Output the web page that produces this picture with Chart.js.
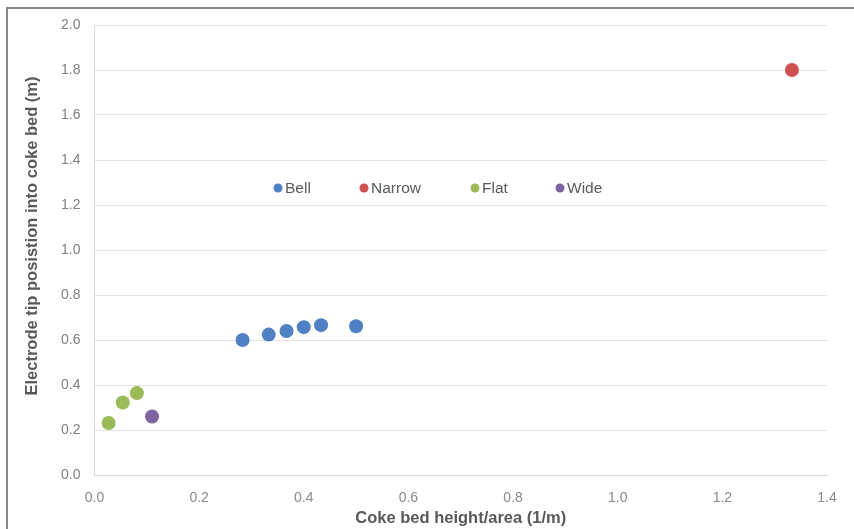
<!DOCTYPE html>
<html>
<head>
<meta charset="utf-8">
<script src="https://cdn.jsdelivr.net/npm/chart.js@4.4.1/dist/chart.umd.min.js"></script>
<style>
  html, body { margin: 0; padding: 0; background: #fff; }
  #wrap { position: relative; width: 854px; height: 529px; overflow: hidden; }
  #frame { position: absolute; left: 6px; top: 7px; width: 900px; height: 600px;
           border-top: 2px solid #8a8a8a; border-left: 2px solid #8a8a8a; pointer-events: none; }
  canvas { position: absolute; left: 0; top: 0; }
</style>
</head>
<body>
<div id="wrap">
  <canvas id="c" width="854" height="529"></canvas>
  <div id="frame"></div>
</div>
<script>
// Coke bed height/area (1/m) vs electrode tip position (m), grouped by profile shape
const bellX   = [0.283, 0.333, 0.367, 0.400, 0.433, 0.500];
const bellY   = [0.600, 0.624, 0.640, 0.657, 0.666, 0.661];
const narrowX = [1.333];
const narrowY = [1.800];
const flatX   = [0.027, 0.054, 0.081];
const flatY   = [0.231, 0.322, 0.364];
const wideX   = [0.110];
const wideY   = [0.260];

const seriesNames = ['Bell', 'Narrow', 'Flat', 'Wide'];
const seriesColors = ['#4f81c4', '#cf5050', '#9bbb59', '#8064a2'];
const xTicks = [0.0, 0.2, 0.4, 0.6, 0.8, 1.0, 1.2, 1.4];
const yTicks = [0.0, 0.2, 0.4, 0.6, 0.8, 1.0, 1.2, 1.4, 1.6, 1.8, 2.0];
const yTitle = 'Electrode tip posistion into coke bed (m)';

const pts = (xs, ys) => xs.map((x, i) => ({ x: x, y: ys[i] }));
const seriesData = [pts(bellX, bellY), pts(narrowX, narrowY), pts(flatX, flatY), pts(wideX, wideY)];

// Legend drawn inside the plot area, one entry per series
const legendX = [278, 364, 475, 560];
const inlineLegend = {
  id: 'inlineLegend',
  afterDatasetsDraw(chart) {
    const ctx = chart.ctx;
    const y = 188;
    ctx.save();
    ctx.font = '15.5px "Liberation Sans", Arial, sans-serif';
    ctx.textBaseline = 'middle';
    ctx.textAlign = 'left';
    chart.data.datasets.forEach((ds, i) => {
      const x = legendX[i];
      ctx.fillStyle = ds.backgroundColor;
      ctx.beginPath();
      ctx.arc(x, y, 4.5, 0, Math.PI * 2);
      ctx.fill();
      ctx.fillStyle = '#595959';
      ctx.fillText(ds.label, x + 7, y + 1);
    });
    ctx.restore();
  }
};

// Vertical axis title, set a little above the middle of the plot
const sideTitle = {
  id: 'sideTitle',
  afterDraw(chart) {
    const ctx = chart.ctx;
    ctx.save();
    ctx.translate(32, 236);
    ctx.rotate(-Math.PI / 2);
    ctx.font = 'bold 16.5px "Liberation Sans", Arial, sans-serif';
    ctx.fillStyle = '#595959';
    ctx.textAlign = 'center';
    ctx.textBaseline = 'middle';
    ctx.fillText(yTitle, 0, 0);
    ctx.restore();
  }
};

new Chart(document.getElementById('c'), {
  type: 'scatter',
  data: {
    datasets: seriesNames.map((name, i) => ({
      label: name,
      data: seriesData[i],
      backgroundColor: seriesColors[i],
      borderColor: seriesColors[i],
      borderWidth: 0,
      pointRadius: 7,
      pointHoverRadius: 7
    }))
  },
  options: {
    responsive: false,
    animation: false,
    events: [],
    layout: { padding: { top: 25, right: 27, left: 0, bottom: 0 } },
    plugins: { legend: { display: false }, tooltip: { enabled: false } },
    scales: {
      x: {
        type: 'linear',
        min: 0, max: 1.4,
        afterBuildTicks: s => { s.ticks = xTicks.map(v => ({ value: v })); },
        afterFit: s => { s.height = 54; },
        grid: { display: false, drawTicks: false },
        border: { display: true, color: '#d9d9d9', width: 1 },
        ticks: {
          padding: 15,
          color: '#8a8a8a',
          font: { family: '"Liberation Sans Narrow", "Liberation Sans", Arial, sans-serif', size: 14 },
          callback: v => v.toFixed(1)
        },
        title: {
          display: true,
          text: 'Coke bed height/area (1/m)',
          color: '#595959',
          font: { family: '"Liberation Sans", Arial, sans-serif', size: 16.5, weight: 'bold' },
          padding: { top: 0, bottom: 1 }
        }
      },
      y: {
        type: 'linear',
        min: 0, max: 2.0,
        afterBuildTicks: s => { s.ticks = yTicks.map(v => ({ value: v })); },
        afterFit: s => { s.width = 94.5; },
        grid: { color: '#e3e3e3', lineWidth: 1, drawTicks: false },
        border: { display: true, color: '#d9d9d9', width: 1 },
        ticks: {
          padding: 14,
          color: '#7f7f7f',
          font: { family: '"Liberation Sans", Arial, sans-serif', size: 14 },
          callback: v => v.toFixed(1)
        },
        title: { display: false }
      }
    }
  },
  plugins: [inlineLegend, sideTitle]
});
</script>
</body>
</html>
